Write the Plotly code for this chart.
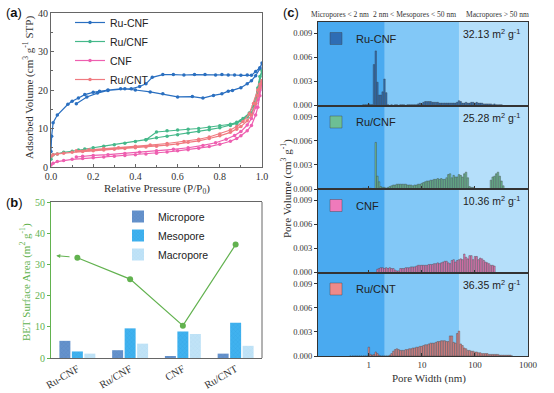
import plotly.graph_objects as go
import math

W, H = 554, 393
SERIF = "Liberation Serif"
SANS = "Liberation Sans"

# ---------------- (a) N2 adsorption-desorption isotherms ----------------
iso_names = ["Ru-CNF", "Ru/CNF", "CNF", "Ru/CNT"]
iso_colors = ["#2a6fc0", "#45b88a", "#ee5fb0", "#f07a80"]

rucnf_ads_p = [0.0, 0.003, 0.01, 0.03, 0.08, 0.10, 0.13, 0.16, 0.20, 0.23, 0.27, 0.33, 0.38, 0.42, 0.45, 0.48, 0.53, 0.58, 0.63, 0.68, 0.73, 0.78, 0.81, 0.84, 0.87, 0.90, 0.93, 0.95, 0.97, 0.99, 1.0]
rucnf_ads_v = [4.0, 8.0, 11.5, 13.5, 16.3, 17.1, 17.9, 18.8, 19.4, 19.7, 20.0, 20.3, 20.3, 20.9, 21.6, 23.3, 24.0, 24.0, 23.9, 24.0, 24.0, 23.9, 24.0, 23.9, 23.9, 23.8, 23.9, 23.8, 24.8, 25.8, 27.0]
rucnf_des_p = [0.99, 0.97, 0.95, 0.93, 0.90, 0.86, 0.84, 0.81, 0.77, 0.72, 0.67, 0.60, 0.53, 0.47, 0.40, 0.35, 0.27, 0.22, 0.17, 0.12]
rucnf_des_v = [25.5, 23.7, 22.4, 21.6, 20.6, 19.9, 19.7, 19.0, 18.6, 17.9, 18.3, 18.2, 19.0, 19.5, 20.0, 20.3, 19.9, 19.2, 18.2, 16.4]

rucnf2_ads_p = [0.0, 0.01, 0.03, 0.06, 0.10, 0.13, 0.16, 0.20, 0.25, 0.30, 0.35, 0.40, 0.45, 0.50, 0.55, 0.60, 0.65, 0.70, 0.75, 0.80, 0.85, 0.88, 0.90, 0.93, 0.95, 0.97, 0.98, 0.99, 1.0]
rucnf2_ads_v = [2.0, 3.2, 3.4, 3.8, 4.1, 4.4, 4.7, 5.0, 5.4, 5.8, 6.2, 6.6, 7.1, 7.6, 8.0, 8.4, 8.8, 9.2, 9.7, 10.2, 10.8, 11.3, 12.0, 13.0, 14.0, 16.5, 19.5, 22.0, 25.0]
rucnf2_des_p = [0.99, 0.98, 0.96, 0.94, 0.91, 0.88, 0.85, 0.80, 0.75, 0.70, 0.65, 0.60, 0.55, 0.50, 0.45]
rucnf2_des_v = [23.5, 20.5, 16.0, 14.0, 12.6, 11.6, 11.1, 10.7, 10.3, 10.0, 9.8, 9.6, 9.4, 9.1, 7.1]

cnf_ads_p = [0.0, 0.01, 0.03, 0.06, 0.10, 0.15, 0.20, 0.25, 0.30, 0.35, 0.40, 0.45, 0.50, 0.55, 0.60, 0.65, 0.70, 0.75, 0.80, 0.85, 0.88, 0.90, 0.93, 0.95, 0.97, 0.98, 0.99, 1.0]
cnf_ads_v = [0.5, 1.0, 1.4, 1.7, 2.0, 2.2, 2.4, 2.6, 2.8, 3.0, 3.2, 3.4, 3.6, 3.9, 4.2, 4.5, 4.9, 5.3, 5.9, 6.7, 7.4, 8.1, 9.4, 10.8, 13.5, 15.5, 18.5, 22.0]
cnf_des_p = [0.99, 0.98, 0.97, 0.95, 0.93, 0.90, 0.87, 0.83, 0.78, 0.72, 0.65, 0.58, 0.50, 0.42, 0.35, 0.27, 0.20, 0.15, 0.12]
cnf_des_v = [20.0, 17.5, 15.5, 12.6, 10.9, 9.2, 8.2, 7.2, 6.3, 5.6, 5.0, 4.6, 4.2, 3.8, 3.5, 3.2, 3.0, 2.8, 2.6]

rucnt_ads_p = [0.0, 0.01, 0.03, 0.06, 0.10, 0.15, 0.20, 0.25, 0.30, 0.35, 0.40, 0.45, 0.50, 0.55, 0.60, 0.65, 0.70, 0.75, 0.80, 0.85, 0.88, 0.90, 0.93, 0.95, 0.97, 0.98, 0.99, 1.0]
rucnt_ads_v = [2.8, 3.2, 3.4, 3.6, 3.8, 4.0, 4.2, 4.4, 4.6, 4.8, 5.0, 5.2, 5.4, 5.7, 6.0, 6.4, 6.8, 7.4, 8.1, 9.0, 9.8, 10.5, 12.0, 13.5, 16.5, 18.5, 20.5, 22.5]
rucnt_des_p = [0.99, 0.98, 0.96, 0.94, 0.91, 0.88, 0.85, 0.80, 0.75, 0.70, 0.63, 0.55, 0.47, 0.40, 0.32, 0.25, 0.18, 0.12]
rucnt_des_v = [21.5, 20.0, 16.5, 13.8, 11.8, 10.5, 9.6, 8.6, 7.8, 7.2, 6.6, 6.1, 5.7, 5.4, 5.0, 4.8, 4.5, 4.2]

# ---------------- (b) surface area by pore type ----------------
samples = ["Ru-CNF", "Ru/CNF", "CNF", "Ru/CNT"]
micropore_area = [5.5, 2.5, 0.6, 1.4]
mesopore_area = [2.1, 9.5, 8.5, 11.3]
macropore_area = [1.4, 4.6, 7.7, 3.9]
bet_area = [32.13, 25.28, 10.36, 36.35]

# ---------------- (c) pore size distributions ----------------
pore_width = [
    0.45, 0.50, 0.55, 0.60, 0.66, 0.72, 0.79, 0.86, 0.93, 1.00,
    1.08, 1.16, 1.25, 1.35, 1.45, 1.56, 1.68, 1.82, 1.97, 2.13,
    2.30, 2.48, 2.68, 2.90, 3.13, 3.38, 3.65, 3.94, 4.26, 4.60,
    4.97, 5.37, 5.80, 6.26, 6.76, 7.30, 7.89, 8.52, 9.20, 9.94,
    10.7, 11.6, 12.5, 13.5, 14.6, 15.8, 17.0, 18.4, 19.9, 21.5,
    23.2, 25.0, 27.0, 29.2, 31.5, 34.0, 36.8, 39.7, 42.9, 46.3,
    50.0, 54.0, 58.3, 63.0, 68.0, 73.5, 79.3, 85.7, 92.5, 100,
    108, 117, 126, 136, 147, 159, 171, 185, 200, 216,
    233, 252, 272, 294, 317, 343, 370, 400, 432, 466,
    500]

pv_rucnf = [
    0, 0, 0, 0, 0, 0, 0.0001, 0.0001, 0.0001, 0.0002,
    0.0001, 0.0001, 0.0051, 0.0068, 0.0029, 0.0013, 0.0013, 0.0017, 0.0033, 0.0016,
    0.0001, 0, 0.0001, 0, 0.0001, 0.0001, 0, 0.0001, 0.0001, 0.0001,
    0, 0.0001, 0.0001, 0.0001, 0.0001, 0.0001, 0.0001, 0.0002, 0.0003, 0.0002,
    0.0004, 0.0005, 0.0005, 0.0005, 0.0005, 0.0004, 0.0004, 0.0004, 0.0004, 0.0003,
    0.0003, 0.0003, 0.0003, 0.0003, 0.0003, 0.0003, 0.0003, 0.0003, 0.0003, 0.0004,
    0.0006, 0.0005, 0.0003, 0.0003, 0.0004, 0.0003, 0.0003, 0.0004, 0.0004, 0.0003,
    0.0004, 0.0003, 0.0003, 0.0003, 0.0002, 0.0002, 0.0002, 0.0002, 0.0002, 0.0001,
    0.0002, 0.0001, 0.0001, 0.0001, 0.0001, 0, 0, 0, 0, 0,
    0]

pv_rucnf2 = [
    0, 0, 0, 0, 0, 0, 0.0001, 0.0001, 0.0001, 0.0001,
    0.0001, 0, 0, 0.0058, 0.0016, 0.0009, 0.0003, 0.0002, 0.0002, 0.0001,
    0.0002, 0.0003, 0.0004, 0.0005, 0.0005, 0.0006, 0.0006, 0.0006, 0.0006, 0.0006,
    0.0006, 0.0005, 0.0005, 0.0005, 0.0004, 0.0005, 0.0005, 0.0006, 0.0006, 0.0007,
    0.0008, 0.0009, 0.0010, 0.0010, 0.0011, 0.0011, 0.0012, 0.0012, 0.0013, 0.0012,
    0.0013, 0.0012, 0.0012, 0.0014, 0.0018, 0.0019, 0.0014, 0.0017, 0.0015, 0.0015,
    0.0018, 0.0017, 0.0015, 0.0019, 0.0021, 0.0014, 0.0003, 0.0002, 0.0002, 0,
    0, 0, 0, 0, 0, 0, 0, 0, 0.0011, 0.0015,
    0.0016, 0.0019, 0.0021, 0.0016, 0.0010, 0.0004, 0, 0, 0, 0,
    0]

pv_cnf = [
    0, 0, 0, 0, 0, 0, 0, 0, 0, 0,
    0, 0, 0, 0, 0.0004, 0.0005, 0.0006, 0.0006, 0.0005, 0.0006,
    0.0005, 0.0006, 0.0005, 0.0005, 0.0003, 0.0002, 0.0002, 0.0005, 0.0005, 0.0005,
    0.0006, 0.0006, 0.0006, 0.0007, 0.0007, 0.0007, 0.0008, 0.0009, 0.0009, 0.0009,
    0.0009, 0.0009, 0.0009, 0.0010, 0.0010, 0.0010, 0.0011, 0.0011, 0.0012, 0.0011,
    0.0012, 0.0013, 0.0014, 0.0014, 0.0012, 0.0011, 0.0015, 0.0016, 0.0013, 0.0015,
    0.0016, 0.0017, 0.0016, 0.0023, 0.0019, 0.0017, 0.0021, 0.0021, 0.0016, 0.0020,
    0.0020, 0.0016, 0.0018, 0.0017, 0.0015, 0.0013, 0.0012, 0.0011, 0.0009, 0.0009,
    0.0008, 0, 0, 0, 0, 0, 0, 0, 0, 0,
    0]

pv_rucnt = [
    0, 0, 0, 0, 0, 0, 0, 0, 0, 0.0011,
    0.0002, 0.0001, 0.0002, 0.0005, 0.0003, 0.0001, 0, 0, 0, 0,
    0, 0.0001, 0.0003, 0.0006, 0.0008, 0.0009, 0.0008, 0.0007, 0.0007, 0.0007,
    0.0008, 0.0008, 0.0009, 0.0009, 0.0010, 0.0010, 0.0011, 0.0011, 0.0012, 0.0012,
    0.0013, 0.0014, 0.0014, 0.0015, 0.0016, 0.0016, 0.0016, 0.0017, 0.0018, 0.0018,
    0.0019, 0.0019, 0.0019, 0.0018, 0.0018, 0.0025, 0.0025, 0.0017, 0.0016, 0.0028,
    0.0031, 0.0015, 0.0013, 0.0010, 0.0009, 0.0007, 0.0007, 0.0006, 0.0006, 0.0005,
    0.0005, 0.0004, 0.0004, 0.0003, 0.0003, 0.0003, 0.0003, 0.0002, 0.0002, 0.0002,
    0.0002, 0.0002, 0.0002, 0.0001, 0.0001, 0.0001, 0.0001, 0.0001, 0.0001, 0.0001,
    0]

psd_names = ["Ru-CNF", "Ru/CNF", "CNF", "Ru/CNT"]
psd_areas = ["32.13", "25.28", "10.36", "36.35"]
psd_colors = ["#2e6db4", "#6dbf94", "#ef7abb", "#ee8a8a"]
region_bounds = [2, 50]          # nm: micro/meso and meso/macro limits
region_colors = ["#4aaaf0", "#82c8f7", "#b5dffa"]

# ---------------- figure ----------------
fig = go.Figure()

iso_sets = [
    (rucnf_ads_p, rucnf_ads_v, rucnf_des_p, rucnf_des_v),
    (rucnf2_ads_p, rucnf2_ads_v, rucnf2_des_p, rucnf2_des_v),
    (cnf_ads_p, cnf_ads_v, cnf_des_p, cnf_des_v),
    (rucnt_ads_p, rucnt_ads_v, rucnt_des_p, rucnt_des_v),
]
for name, col, (ap, av, dp, dv) in zip(iso_names, iso_colors, iso_sets):
    fig.add_trace(go.Scatter(
        x=ap + dp, y=av + dv, mode="lines+markers", name=name,
        line=dict(color=col, width=1.2), marker=dict(size=3.5, color=col),
        xaxis="x", yaxis="y", legend="legend"))

GREEN = "#62b24f"
bar_specs = [
    ("Micropore", micropore_area, "#6592cc", "#4a78b0"),
    ("Mesopore", mesopore_area, "#40b2ef", "#2a96d6"),
    ("Macropore", macropore_area, "#c0e3f7", "#a6d4f0"),
]
for name, vals, col, fg in bar_specs:
    fig.add_trace(go.Bar(
        x=samples, y=vals, name=name,
        marker=dict(color=col, line=dict(width=0),
                    pattern=dict(shape="x", fgcolor=fg, size=3, solidity=0.2,
                                 fillmode="overlay")),
        xaxis="x2", yaxis="y2", legend="legend2"))
fig.add_trace(go.Scatter(
    x=samples, y=bet_area, mode="lines+markers", showlegend=False,
    line=dict(color=GREEN, width=1.2), marker=dict(size=6, color=GREEN),
    xaxis="x2", yaxis="y2"))

psd_vals = [pv_rucnf, pv_rucnf2, pv_cnf, pv_rucnt]
bar_w = [w * 0.065 for w in pore_width]
for i, (name, vals, col) in enumerate(zip(psd_names, psd_vals, psd_colors)):
    fig.add_trace(go.Bar(
        x=pore_width, y=vals, width=bar_w, name=name,
        marker=dict(color=col, line=dict(color="#3c3c3c", width=0.4)),
        xaxis=f"x{3+i}", yaxis=f"y{3+i}", legend=f"legend{3+i}"))

# ---------------- layout ----------------
def fy(p):
    return 1 - p / H

tickfont = dict(family=SERIF, size=10, color="#333")
tickfont_c = dict(family=SERIF, size=8.5, color="#333")
frame = dict(showline=True, mirror=True, linecolor="#666", linewidth=1, showgrid=False,
             zeroline=False, automargin=False)

layout = dict(
    template="none",
    width=W, height=H, margin=dict(l=0, r=0, t=0, b=0, autoexpand=False),
    paper_bgcolor="white", plot_bgcolor="white", autosize=False,
    font=dict(family=SERIF, size=10, color="#333"),
    barmode="group", bargap=0.29, bargroupgap=0.12,
    xaxis=dict(domain=[51 / W, 262 / W], anchor="y", range=[0, 1], dtick=0.2, tickformat=".1f",
               ticks="inside", ticklen=3, tickcolor="#666", tickfont=tickfont,
               minor=dict(ticks="inside", ticklen=2, dtick=0.1, tickcolor="#666"), **frame),
    yaxis=dict(domain=[fy(167), fy(13)], anchor="x", range=[0, 40], dtick=10,
               ticks="inside", ticklen=3, tickcolor="#666", tickfont=tickfont,
               minor=dict(ticks="inside", ticklen=2, dtick=5, tickcolor="#666"), **frame),
    xaxis2=dict(domain=[51 / W, 262 / W], anchor="y2", type="category", tickangle=-30,
                ticks="", tickfont=dict(family=SERIF, size=10.5, color="#333"), **frame),
    yaxis2=dict(domain=[fy(358), fy(202)], anchor="x2", range=[0, 50], dtick=10,
                showline=True, linecolor=GREEN, linewidth=1, mirror=False, automargin=False,
                ticks="outside", ticklen=3, tickcolor=GREEN,
                tickfont=dict(family=SERIF, size=10, color=GREEN), showgrid=False, zeroline=False),
)

c_top = 22.0
c_h = (356.0 - 22.0) / 4
xr = [math.log10(0.11), 3]
for i in range(4):
    top = c_top + i * c_h
    bot = top + c_h
    layout[f"xaxis{3+i}"] = dict(
        domain=[318 / W, 528 / W], anchor=f"y{3+i}", type="log", range=xr,
        ticks="inside", ticklen=3, tickcolor="#333",
        showticklabels=(i == 3), tickfont=dict(family=SERIF, size=9, color="#333"),
        tickvals=[1, 10, 100, 1000], ticktext=["1", "10", "100", "1000"],
        showline=True, mirror=True, linecolor="#333", linewidth=1, showgrid=False,
        zeroline=False, automargin=False)
    layout[f"yaxis{3+i}"] = dict(
        domain=[fy(bot), fy(top)], anchor=f"x{3+i}", range=[0, 0.0104],
        tickvals=[0, 0.003, 0.006, 0.009], tickformat=".3f",
        ticks="outside", ticklen=3, tickcolor="#333", tickfont=tickfont_c,
        showline=True, mirror=True, linecolor="#333", linewidth=1, showgrid=False,
        zeroline=False, automargin=False)

# legends
leg_common = dict(bgcolor="rgba(0,0,0,0)", borderwidth=0, xanchor="left", yanchor="top",
                  tracegroupgap=0)
layout["legend"] = dict(x=70 / W, y=fy(8), itemwidth=30,
                        font=dict(family=SANS, size=10.5, color="#222"), **leg_common)
layout["legend2"] = dict(x=118 / W, y=fy(202),
                         font=dict(family=SANS, size=10.5, color="#222"), **leg_common)
for i in range(4):
    layout[f"legend{3+i}"] = dict(x=316 / W, y=fy(24 + i * c_h),
                                  font=dict(family=SANS, size=11, color="#222"), **leg_common)

fig.update_layout(**layout)

# background regions in (c)
def dom_frac(v):
    return (math.log10(v) - xr[0]) / (xr[1] - xr[0])

edges = [0.0, dom_frac(region_bounds[0]), dom_frac(region_bounds[1]), 1.0]
for i in range(4):
    for k in range(3):
        fig.add_shape(type="rect", xref=f"x{3+i} domain", yref=f"y{3+i} domain",
                      x0=edges[k], x1=edges[k + 1], y0=0, y1=1,
                      fillcolor=region_colors[k], line=dict(width=0), layer="below")

# right frame line of (b)
fig.add_shape(type="line", xref="x2 domain", yref="y2 domain", x0=1, x1=1, y0=0, y1=1,
              line=dict(color="#666", width=1))

ann = []

def paper_text(text, xpx, ypx, size, color="#333", family=SERIF, angle=0, xanchor="center"):
    ann.append(dict(text=text, x=xpx / W, y=fy(ypx), xref="paper", yref="paper",
                    xanchor=xanchor, yanchor="middle", textangle=angle, showarrow=False,
                    font=dict(family=family, size=size, color=color)))

# panel labels
for txt, xx, yy in [("(<b>a</b>)", 4, 12), ("(<b>b</b>)", 4, 202), ("(<b>c</b>)", 281, 12)]:
    paper_text(txt, xx, yy, 13, color="#111", family=SANS, xanchor="left")
# axis titles
paper_text("Adsorbed Volume (cm<sup>3</sup> g<sup>-1</sup> STP)", 28, 88, 11, angle=-90)
paper_text("Relative Pressure (P/P<sub>0</sub>)", 157, 189, 11)
paper_text("BET Surface Area (m<sup>2</sup> g<sup>-1</sup>)", 25, 282, 11, color=GREEN, angle=-90)
paper_text("Pore Volume (cm<sup>3</sup> g<sup>-1</sup>)", 286, 189, 11, angle=-90)
paper_text("Pore Width (nm)", 429, 378, 11)
# region header
for txt, xx in [("Micropores &lt; 2 nm", 340), ("2 nm &lt; Mesopores &lt; 50 nm", 414),
                ("Macropores &gt; 50 nm", 497)]:
    paper_text(txt, xx, 15, 7.5)
# surface area texts in (c)
for i, a in enumerate(psd_areas):
    ann.append(dict(text=f"{a} m<sup>2</sup> g<sup>-1</sup>", x=0.97, y=0.86,
                    xref=f"x{3+i} domain", yref=f"y{3+i} domain", xanchor="right", yanchor="middle",
                    showarrow=False, font=dict(family=SANS, size=10.5, color="#222")))
# arrow in (b)
ann.append(dict(text="", x=-0.4, y=32.8, xref="x2", yref="y2", ax=-0.12, ay=32.4,
                axref="x2", ayref="y2", showarrow=True, arrowhead=2, arrowsize=0.8,
                arrowwidth=1, arrowcolor=GREEN, standoff=0))
fig.update_layout(annotations=ann)

fig.write_html("out.html", config={"displayModeBar": False},
               post_script="document.body.style.margin='0';")
